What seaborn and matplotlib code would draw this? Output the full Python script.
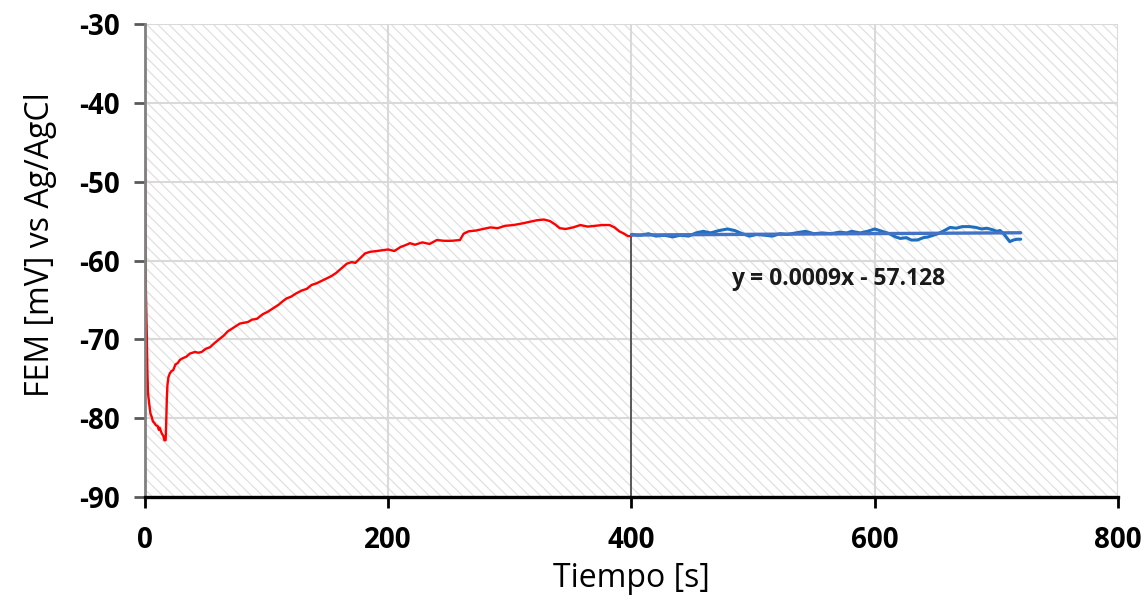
import matplotlib
matplotlib.use("Agg")
import matplotlib.pyplot as plt
from matplotlib.patches import Rectangle
import seaborn as sns
import pandas as pd

# ---------------- data ----------------
red_t = [0, 0.3, 0.5, 0.8, 1.2, 1.5, 2.0, 2.5, 3.0, 4.0, 4.5, 5.5, 6.5, 7.7, 9.0, 10.4,
         11.5, 12, 13, 14, 15, 16, 17, 17.5, 18, 18.5, 19.3, 20.5, 22, 23.3, 25, 27, 28.8,
         31, 34, 37, 41, 44, 46.6, 50, 53.5, 57, 61.7, 65, 68, 72, 78, 84.7, 88, 92, 97,
         101, 105, 110, 113, 116.5, 120, 124, 129, 133, 137, 141, 145, 149, 153, 157, 160,
         163, 166, 170, 173, 177, 181, 185, 190.5, 195, 200, 205, 210, 215, 218, 222, 228,
         234, 240, 246, 252, 259, 262, 266, 272, 278, 284, 290, 296, 303, 310, 316, 322,
         328, 333, 337, 341, 346, 352, 358, 364, 370, 376, 382, 386, 390, 394, 397, 400]
red_v = [-46.0, -52.0, -58.3, -64.0, -67.0, -69.2, -74.0, -76.8, -77.5, -78.8, -79.4, -79.8,
         -80.4, -80.6, -80.9, -81.0, -81.5, -81.2, -81.6, -82.0, -82.2, -82.8, -82.8, -80.5,
         -77.5, -75.8, -74.8, -74.3, -74.0, -73.9, -73.2, -73.0, -72.6, -72.4, -72.2, -71.8,
         -71.6, -71.7, -71.6, -71.2, -71.0, -70.5, -69.9, -69.5, -69.0, -68.6, -68.0, -67.8,
         -67.5, -67.4, -66.8, -66.5, -66.1, -65.6, -65.2, -64.8, -64.6, -64.2, -63.8, -63.6,
         -63.1, -62.9, -62.6, -62.3, -62.0, -61.6, -61.2, -60.8, -60.4, -60.2, -60.3, -59.7,
         -59.1, -58.9, -58.8, -58.7, -58.6, -58.8, -58.3, -58.0, -57.8, -58.0, -57.7, -57.9,
         -57.4, -57.5, -57.5, -57.4, -56.6, -56.3, -56.2, -56.0, -55.8, -55.9, -55.6, -55.5,
         -55.3, -55.1, -54.9, -54.8, -55.0, -55.4, -55.9, -56.0, -55.8, -55.5, -55.7, -55.6,
         -55.5, -55.5, -55.8, -56.3, -56.6, -56.9, -56.9]

blue_t = [400, 407, 414, 420, 427, 434, 440, 447, 453, 459, 465, 472, 479, 485, 491, 497,
          503, 510, 516, 522, 528, 535, 543, 550, 557, 564, 571, 577, 581, 588, 594, 600,
          606, 612, 617, 621, 626, 630, 635, 640, 644, 648, 652, 656, 662, 667, 672, 678,
          683, 688, 692, 697, 700, 703, 706, 709, 711, 714, 717, 720]
blue_v = [-56.7, -56.8, -56.6, -56.9, -56.8, -57.0, -56.8, -56.9, -56.5, -56.3, -56.5, -56.2,
          -56.0, -56.2, -56.6, -56.9, -56.7, -56.8, -56.9, -56.6, -56.7, -56.5, -56.3, -56.6,
          -56.5, -56.6, -56.4, -56.5, -56.3, -56.5, -56.3, -56.0, -56.3, -56.6, -57.0, -57.2,
          -57.1, -57.4, -57.4, -57.1, -57.0, -56.8, -56.6, -56.3, -55.8, -55.9, -55.7, -55.7,
          -55.8, -56.0, -55.9, -56.1, -56.3, -56.2, -56.6, -57.2, -57.6, -57.4, -57.3, -57.3]

trend_slope = 0.0009
trend_intercept = -57.128
trend_label = "y = 0.0009x - 57.128"

x_ticks = [0, 200, 400, 600, 800]
y_ticks = [-90, -80, -70, -60, -50, -40, -30]
x_label = "Tiempo [s]"
y_label = "FEM [mV] vs Ag/AgCl"

# ---------------- style ----------------
sns.set_theme(style="white")
plt.rcParams["font.family"] = ["Open Sans", "DejaVu Sans"]
plt.rcParams["hatch.linewidth"] = 0.9

fig, ax = plt.subplots(figsize=(11.44, 6.05), dpi=100)
fig.subplots_adjust(left=0.1267, right=0.9773, top=0.9603, bottom=0.1785)

# hatched background
ax.add_patch(Rectangle((0, 0), 1, 1, transform=ax.transAxes, facecolor="white",
                       edgecolor="#e0e0e0", hatch="\\\\\\", linewidth=0, zorder=0))

df_red = pd.DataFrame({"t": red_t, "v": red_v})
df_blue = pd.DataFrame({"t": blue_t, "v": blue_v})

sns.lineplot(data=df_red, x="t", y="v", ax=ax, color="#ff0000", linewidth=1.7,
             estimator=None, sort=False, zorder=4)
sns.lineplot(data=df_blue, x="t", y="v", ax=ax, color="#1f6fc0", linewidth=2.2,
             estimator=None, sort=False, zorder=4)

tx = [min(blue_t), max(blue_t)]
ty = [trend_slope * x + trend_intercept for x in tx]
ax.plot(tx, ty, color="#4472c4", linewidth=2.4, zorder=5)

# drop line at x = 400
ax.vlines(blue_t[0], y_ticks[0], blue_v[0], color="#595959", linewidth=1.4, zorder=3)

ax.text(570, -62.3, trend_label, ha="center", va="center", fontsize=16.5,
        fontweight="bold", color="#1a1a1a", zorder=6)

ax.set_xlim(x_ticks[0], x_ticks[-1])
ax.set_ylim(y_ticks[0], y_ticks[-1])
ax.set_xticks(x_ticks)
ax.set_yticks(y_ticks)
ax.set_xticklabels([str(v) for v in x_ticks], fontsize=20, fontweight="bold", color="black")
ax.set_yticklabels([str(v) for v in y_ticks], fontsize=20, fontweight="bold", color="black")
ax.set_xlabel(x_label, fontsize=23, color="black", labelpad=5)
ax.set_ylabel(y_label, fontsize=23, color="black", labelpad=16)
ax.yaxis.label.set_y(0.533)

ax.grid(True, color="#d9d9d9", linewidth=1.5, zorder=1)
ax.set_axisbelow(True)

for s in ["top", "right"]:
    ax.spines[s].set_visible(False)
ax.spines["left"].set_color("#808080")
ax.spines["left"].set_linewidth(2.0)
ax.spines["bottom"].set_color("black")
ax.spines["bottom"].set_linewidth(2.4)
ax.spines["left"].set_zorder(6)
ax.spines["bottom"].set_zorder(6)

ax.tick_params(axis="y", direction="out", length=8, width=2, color="#595959", pad=10, left=True)
ax.tick_params(axis="x", direction="out", length=8, width=2, color="black", pad=13, bottom=True)

fig.savefig("out.png", dpi=100)
